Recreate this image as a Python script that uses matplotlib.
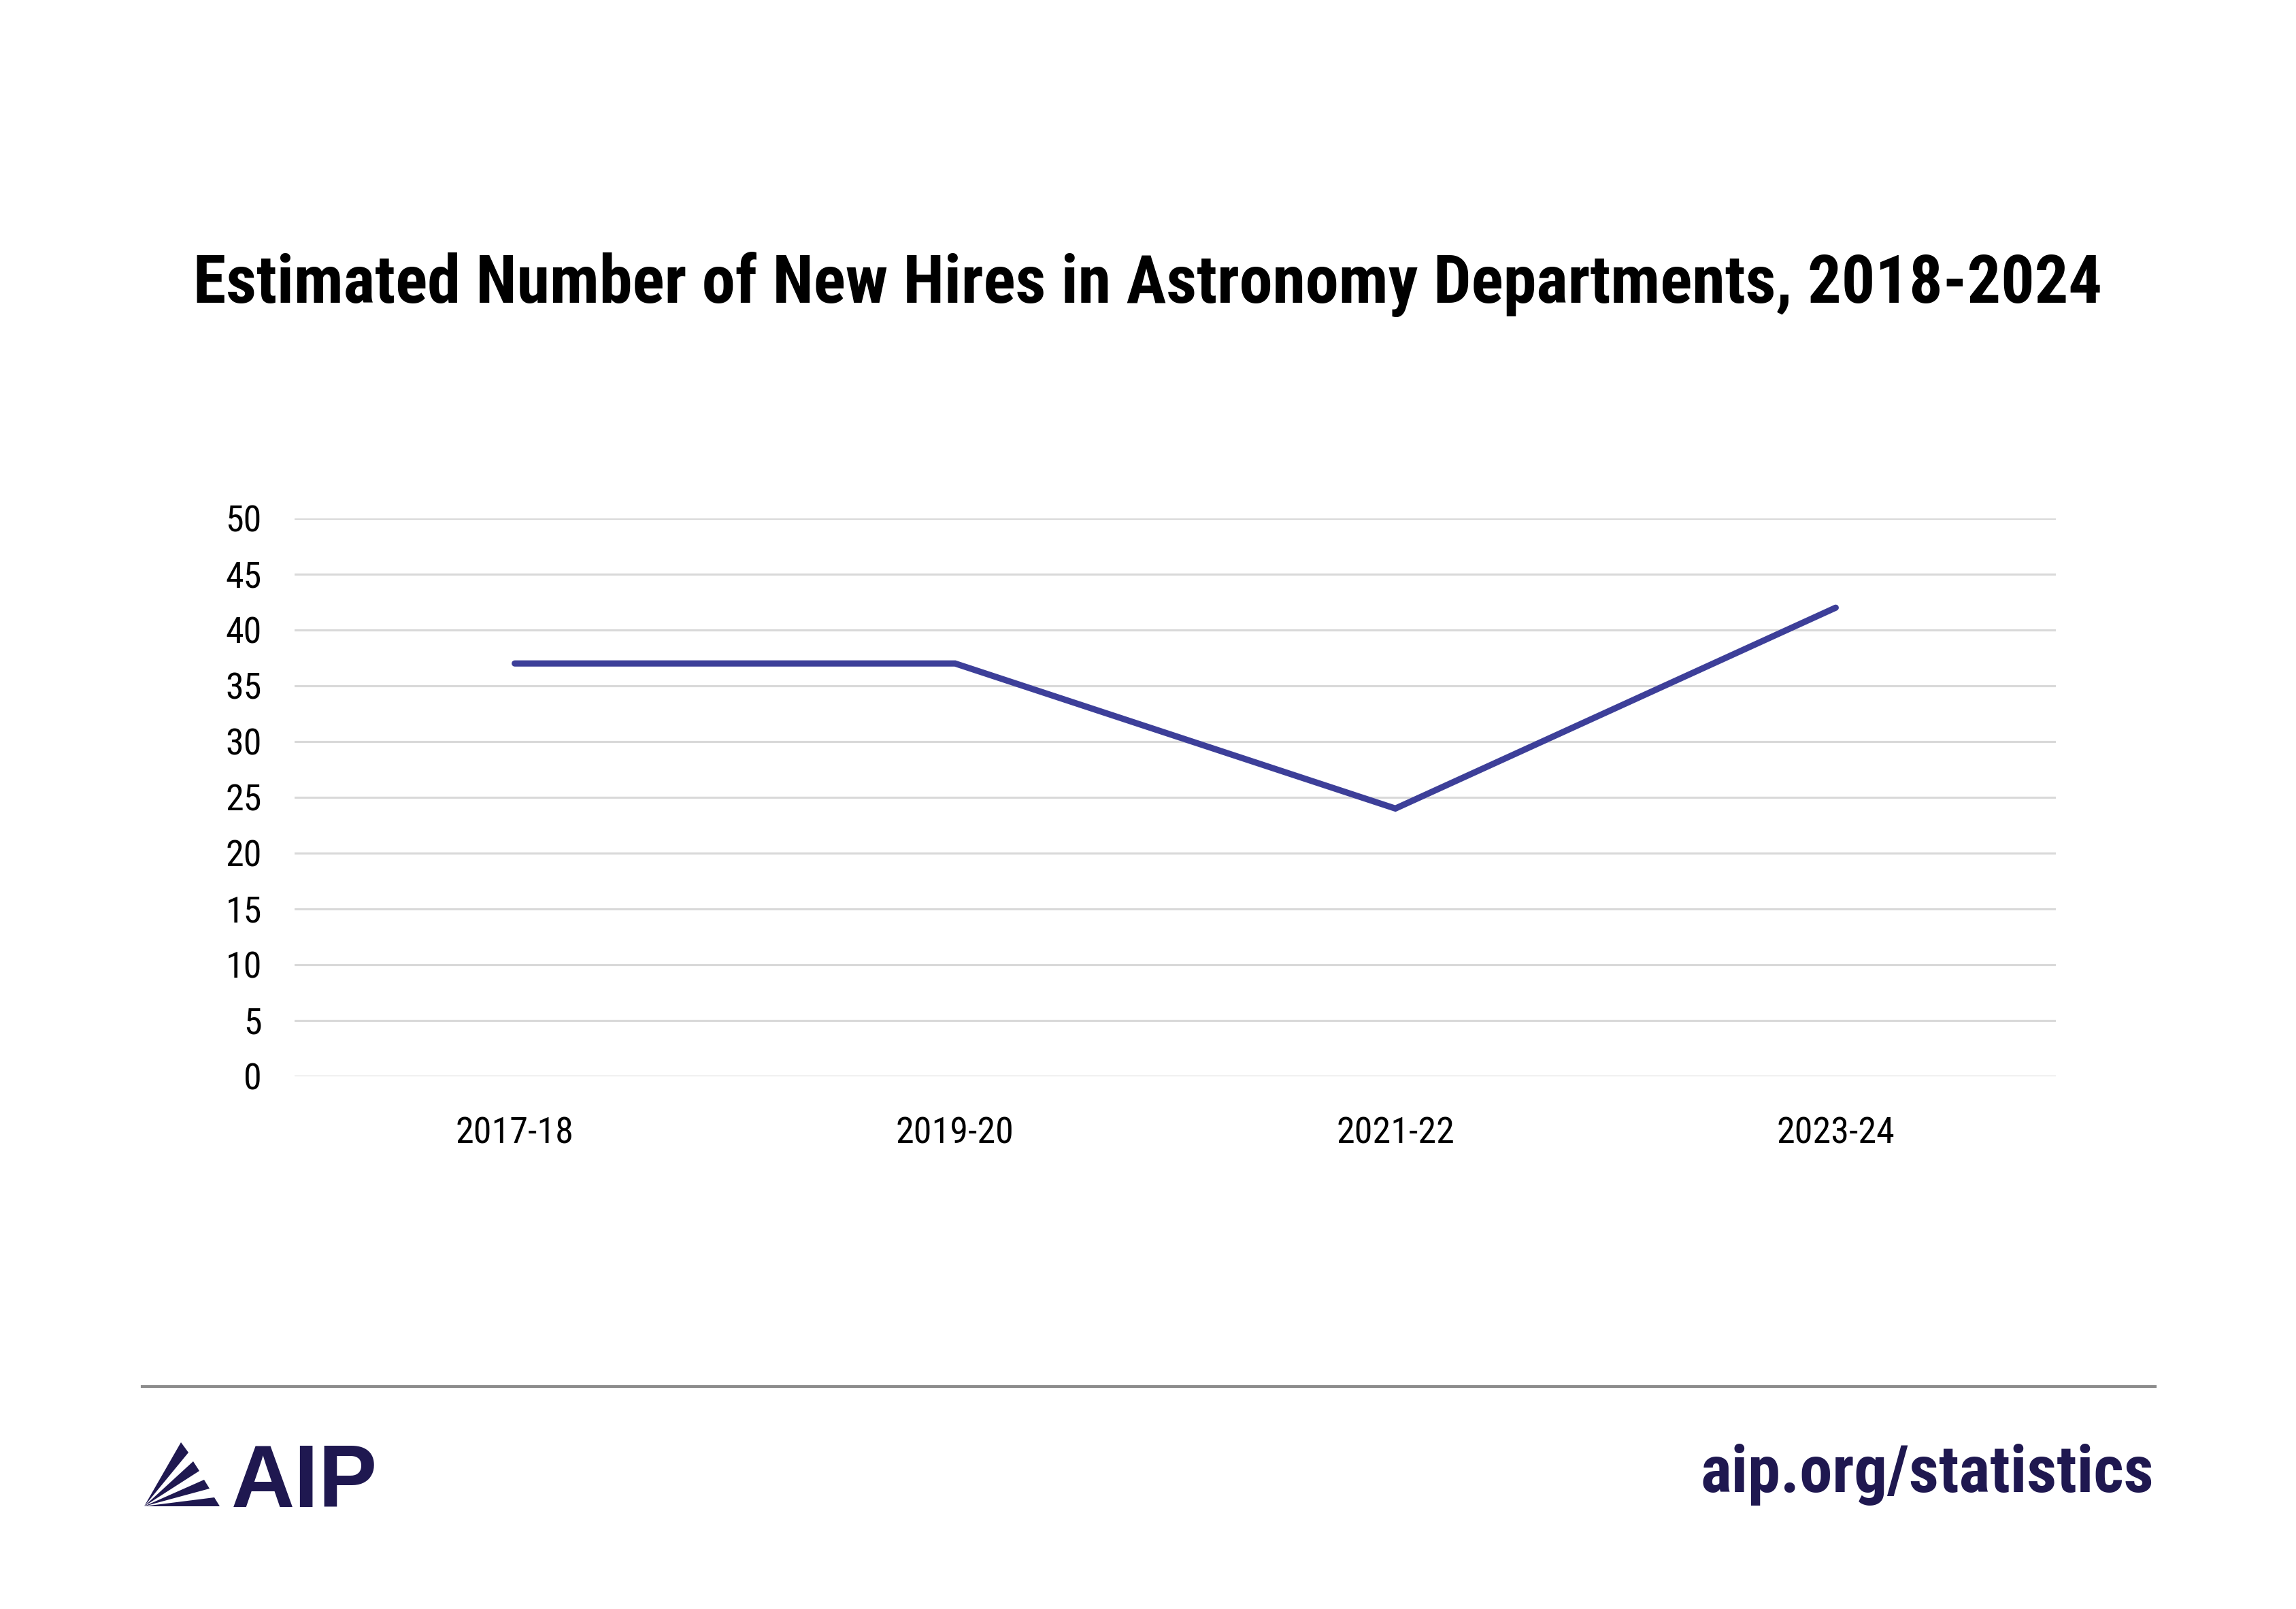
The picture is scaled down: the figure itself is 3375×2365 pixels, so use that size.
import matplotlib.pyplot as plt
from matplotlib.patches import Polygon

# data
periods = ['2017-18', '2019-20', '2021-22', '2023-24']
new_hires = [37, 37, 24, 42]
yticks = list(range(0, 55, 5))

title = 'Estimated Number of New Hires in Astronomy Departments, 2018-2024'
navy = '#1f1850'
line_color = '#3d3f99'
narrow = ['Roboto Condensed', 'Liberation Sans', 'DejaVu Sans']

W, H = 3375, 2365
fig = plt.figure(figsize=(W / 300, H / 300), dpi=300)

# overlay in pixel coords for title / footer
ov = fig.add_axes([0, 0, 1, 1])
ov.set_xlim(0, W)
ov.set_ylim(H, 0)
ov.axis('off')

ax = fig.add_axes([433 / W, 1 - 1582 / H, (3022 - 433) / W, (1582 - 762) / H])
ax.plot(range(len(periods)), new_hires, color=line_color, lw=2.2,
        solid_capstyle='round', solid_joinstyle='miter')
ax.set_xlim(-0.5, len(periods) - 0.5)
ax.set_ylim(0, 50)
ax.set_yticks(yticks)
ax.set_xticks(range(len(periods)))
ax.set_xticklabels(periods)
ax.grid(axis='y', color='#d9d9d9', lw=0.75)
ax.set_axisbelow(True)
for s in ax.spines.values():
    s.set_visible(False)
ax.tick_params(axis='both', length=0, labelsize=13, labelcolor='black')
ax.tick_params(axis='y', pad=11.5)
ax.tick_params(axis='x', pad=14)
for lab in ax.get_xticklabels() + ax.get_yticklabels():
    lab.set_family(narrow)

ov.text(W / 2, 445, title, ha='center', va='baseline', fontsize=23.6,
        fontweight='bold', family=narrow, color='black')

# footer rule
ov.plot([209, 3168], [2038, 2038], color='#8c8c8c', lw=1.0)

# AIP logo rays
ox, oy = 212, 2214
rays = [
    [(266, 2120), (277, 2135)],
    [(284, 2148), (293, 2162)],
    [(300, 2175), (308, 2188)],
    [(315, 2201), (323, 2214)],
]
for (a, b) in rays:
    ov.add_patch(Polygon([(ox, oy), a, b], closed=True, color=navy, lw=0))
ov.text(340, 2215, 'AIP', ha='left', va='baseline', fontsize=31,
        fontweight='bold', family=['Liberation Sans', 'DejaVu Sans'], color=navy)
ov.text(3166, 2193, 'aip.org/statistics', ha='right', va='baseline',
        fontsize=23.2, fontweight='bold', family=narrow, color=navy)

fig.savefig('out.png', dpi=300, facecolor='white')
